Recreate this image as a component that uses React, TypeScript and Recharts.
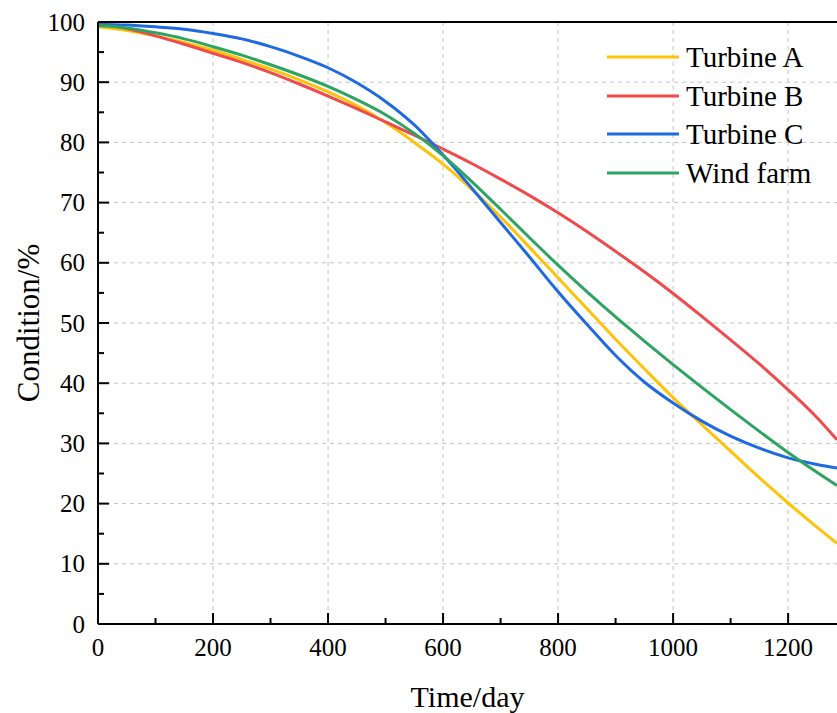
import React from 'react';
import {
  LineChart,
  Line,
  XAxis,
  YAxis,
  CartesianGrid,
  Legend,
  ReferenceLine,
} from 'recharts';

const days = [
  0, 50, 100, 150, 200, 250, 300, 350, 400, 450, 500, 550, 600, 650, 700, 750, 800, 850, 900,
  950, 1000, 1050, 1100, 1150, 1200, 1250, 1285,
];
const turbineA = [
  99.2, 98.6, 97.7, 96.6, 95.3, 93.8, 92.2, 90.4, 88.4, 86.1, 83.3, 80.0, 76.4, 72.2, 67.6,
  62.6, 57.5, 52.4, 47.3, 42.4, 37.6, 33.1, 28.7, 24.3, 20.1, 16.1, 13.4,
];
const turbineB = [
  99.8, 98.9, 97.7, 96.3, 94.8, 93.3, 91.6, 89.7, 87.7, 85.6, 83.4, 81.2, 78.9, 76.5, 73.9,
  71.2, 68.3, 65.2, 61.9, 58.5, 54.9, 51.1, 47.2, 43.2, 38.9, 34.3, 30.6,
];
const turbineC = [
  99.6, 99.5, 99.2, 98.8, 98.1, 97.2, 95.9, 94.3, 92.4, 89.9, 86.8, 82.9, 77.9, 72.4, 66.7,
  61.0, 55.2, 49.8, 44.6, 40.2, 36.7, 33.7, 31.2, 29.2, 27.6, 26.5, 25.9,
];
const windFarm = [
  99.4, 99.0, 98.2, 97.2, 95.9, 94.5, 92.9, 91.2, 89.3, 87.1, 84.6, 81.5, 77.8, 73.5, 68.9,
  64.2, 59.6, 55.2, 51.0, 47.0, 43.1, 39.3, 35.6, 32.0, 28.5, 25.2, 23.0,
];

const xTicks = [0, 100, 200, 300, 400, 500, 600, 700, 800, 900, 1000, 1100, 1200];
const yTicks = [0, 5, 10, 15, 20, 25, 30, 35, 40, 45, 50, 55, 60, 65, 70, 75, 80, 85, 90, 95, 100];
const xGrid = [200, 400, 600, 800, 1000, 1200];
const yGrid = [10, 20, 30, 40, 50, 60, 70, 80, 90];

const series = [
  { key: 'a', label: 'Turbine A', color: '#FFC20A', values: turbineA },
  { key: 'b', label: 'Turbine B', color: '#F04A4C', values: turbineB },
  { key: 'c', label: 'Turbine C', color: '#1F6AE2', values: turbineC },
  { key: 'w', label: 'Wind farm', color: '#2EA462', values: windFarm },
];

const data = days.map((d, i) => {
  const row: Record<string, number> = { day: d };
  series.forEach(s => {
    row[s.key] = s.values[i];
  });
  return row;
});

const FONT = '"Liberation Serif", "Times New Roman", serif';
const Y_GAP = 13;
const X_GAP = 15;
const tickText = { fontFamily: FONT, fontSize: 25, fill: '#000' };

function YTick(props: any) {
  const { x, y, payload } = props;
  const v = payload.value;
  const major = v % 10 === 0;
  const ax = x + Y_GAP;
  return (
    <g>
      <line x1={ax} x2={ax + (major ? 11 : 6)} y1={y} y2={y} stroke="#000" strokeWidth={2} />
      {major && (
        <text
          x={x}
          y={y}
          dy="0.34em"
          textAnchor="end"
          fontFamily="Liberation Serif"
          style={tickText}
        >
          {v}
        </text>
      )}
    </g>
  );
}

function XTick(props: any) {
  const { x, y, payload } = props;
  const v = payload.value;
  const major = v % 200 === 0;
  const ay = y - X_GAP;
  return (
    <g>
      <line x1={x} x2={x} y1={ay} y2={ay - (major ? 11 : 6)} stroke="#000" strokeWidth={2} />
      {major && (
        <text
          x={x}
          y={y}
          dy="0.68em"
          textAnchor="middle"
          fontFamily="Liberation Serif"
          style={tickText}
        >
          {v}
        </text>
      )}
    </g>
  );
}

function YTitle(props: any) {
  const { viewBox } = props;
  const cx = 28;
  const cy = viewBox.y + viewBox.height / 2;
  return (
    <text
      x={cx}
      y={cy}
      transform={`rotate(-90 ${cx} ${cy})`}
      textAnchor="middle"
      dominantBaseline="central"
      fontFamily="Liberation Serif"
      style={{ fontFamily: FONT, fontSize: 31, fill: '#000' }}
    >
      Condition/%
    </text>
  );
}

function LegendBox() {
  return (
    <div style={{ fontFamily: FONT, fontSize: 29, color: '#000' }}>
      {series.map(s => (
        <div key={s.key} style={{ display: 'flex', alignItems: 'center', height: 38.5 }}>
          <svg width={80} height={10}>
            <line x1={1} x2={73} y1={5} y2={5} stroke={s.color} strokeWidth={3} />
          </svg>
          <span style={{ lineHeight: '38px' }}>{s.label}</span>
        </div>
      ))}
    </div>
  );
}

export default function App() {
  return (
    <div style={{ position: 'absolute', left: 0, top: 0, width: 837, height: 713, background: '#fff' }}>
      <LineChart
        width={837}
        height={713}
        data={data}
        margin={{ top: 22, right: 0, left: 0, bottom: 0 }}
      >
        <CartesianGrid
          stroke="#c4c4c4"
          strokeDasharray="4 4"
          horizontalValues={yGrid}
          verticalValues={xGrid}
        />
        <XAxis
          dataKey="day"
          type="number"
          domain={[0, 1285]}
          ticks={xTicks}
          allowDataOverflow
          height={89}
          tickSize={0}
          tickMargin={X_GAP}
          tickLine={false}
          tick={<XTick />}
          axisLine={{ stroke: '#000', strokeWidth: 2 }}
          interval={0}
          label={{
            value: 'Time/day',
            position: 'insideBottom',
            offset: 6,
            style: { fontFamily: FONT, fontSize: 30, fill: '#000' },
          }}
        />
        <YAxis
          type="number"
          domain={[0, 100]}
          ticks={yTicks}
          width={98}
          tickSize={0}
          tickMargin={Y_GAP}
          tickLine={false}
          tick={<YTick />}
          axisLine={{ stroke: '#000', strokeWidth: 2 }}
          interval={0}
          label={{ content: <YTitle /> }}
        />
        <ReferenceLine y={100} stroke="#000" strokeWidth={2} />
        <Legend
          layout="vertical"
          align="center"
          verticalAlign="middle"
          content={<LegendBox />}
          wrapperStyle={{ left: 606, top: 38, width: 231 }}
        />
        {series.map(s => (
          <Line
            key={s.key}
            type="monotone"
            dataKey={s.key}
            name={s.label}
            stroke={s.color}
            strokeWidth={3}
            dot={false}
            isAnimationActive={false}
          />
        ))}
      </LineChart>
    </div>
  );
}
